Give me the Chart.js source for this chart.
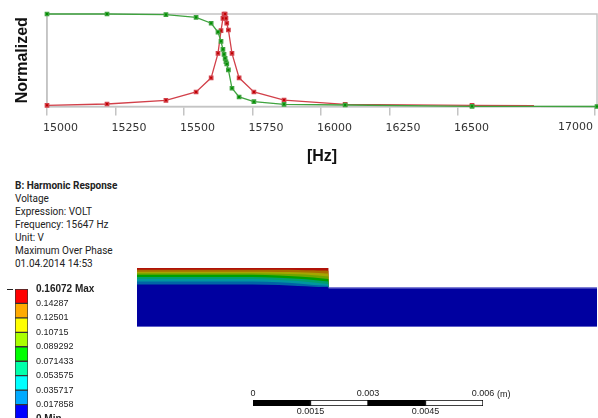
<!DOCTYPE html>
<html>
<head>
<meta charset="utf-8">
<title>Harmonic Response</title>
<script src="https://cdn.jsdelivr.net/npm/chart.js@4"></script>
<style>
    html, body { margin: 0; padding: 0; background: #fff; }
    body { position: relative; width: 598px; height: 418px; overflow: hidden; }
    canvas { position: absolute; }
    #response-chart { left: 0; top: 0; }
    #legend-chart { left: 0; top: 280px; }
    #contour-chart { left: 137px; top: 268px; }
    #scale-chart { left: 233px; top: 386px; }
    #info { position: absolute; left: 15px; top: 179px; font: 10px/13px Roboto, sans-serif; color: #222; white-space: nowrap; }
    #info b { font-weight: 700; }
    #unit { position: absolute; left: 497px; top: 388px; font: 9px/12px "Liberation Sans", sans-serif; color: #222; }
</style>
</head>
<body>
<canvas id="response-chart" width="598" height="172"></canvas>
<div id="info">
    <div><b>B: Harmonic Response</b></div>
    <div>Voltage</div>
    <div>Expression: VOLT</div>
    <div>Frequency: 15647 Hz</div>
    <div>Unit: V</div>
    <div>Maximum Over Phase</div>
    <div>01.04.2014 14:53</div>
</div>
<canvas id="legend-chart" width="130" height="150"></canvas>
<canvas id="contour-chart" width="460" height="59"></canvas>
<canvas id="scale-chart" width="270" height="32"></canvas>
<div id="unit">(m)</div>

<script>
// ===========================================
// DATA
// ===========================================
const frequencies = [15000, 15219, 15434, 15544, 15599, 15624, 15635, 15642, 15646, 15650, 15653, 15656, 15662, 15675, 15701, 15755, 15865, 16088, 16551, 16777, 17007];
const redValues = [0.013, 0.027, 0.067, 0.157, 0.31, 0.575, 0.82, 0.953, 1, 1, 0.953, 0.9, 0.827, 0.575, 0.31, 0.157, 0.07, 0.024, 0.013, 0.009, null];
const greenValues = [1, 1, 0.993, 0.964, 0.9, 0.805, 0.705, 0.618, 0.564, 0.52, 0.484, 0.46, 0.395, 0.197, 0.103, 0.052, 0.024, 0.016, 0.002, 0.001, 0];
const frequencyTicks = [15000, 15250, 15500, 15750, 16000, 16250, 16500, 17000];
const unmarkedFrequency = 16777;

const legendTicks = [0.16072, 0.14287, 0.12501, 0.10715, 0.089292, 0.071433, 0.053575, 0.035717, 0.017858, 0];
const legendColors = ['#ff0000', '#ffaa00', '#ffff00', '#aaff00', '#00ff00', '#00ffaa', '#00ffff', '#00aaff', '#0000ff'];

// contour band tops in mm above the bottom of the model
const bandX = [0, 3, 3.7, 4.2, 4.6, 4.85, 5];
const bandRed = [1.5, 1.5, 1.5, 1.5, 1.5, 1.5, 1.5];
const bandOrange = [1.456, 1.456, 1.456, 1.451, 1.443, 1.435, 1.43];
const bandOlive = [1.404, 1.404, 1.398, 1.391, 1.378, 1.365, 1.357];
const bandLime = [1.365, 1.365, 1.354, 1.339, 1.318, 1.299, 1.286];
const bandGreen = [1.326, 1.326, 1.31, 1.286, 1.26, 1.234, 1.221];
const bandSea = [1.273, 1.273, 1.255, 1.227, 1.195, 1.169, 1.156];
const bandCyan = [1.221, 1.221, 1.198, 1.167, 1.13, 1.104, 1.091];
const bandSky = [1.156, 1.156, 1.135, 1.104, 1.07, 1.052, 1.044];
const bandBlue = [1.078, 1.078, 1.065, 1.044, 1.026, 1.018, 1.013];
const bandColors = ['#b01208', '#a86e00', '#a5a500', '#6ea500', '#00a000', '#00a06e', '#0096a0', '#0064a5', '#0000a0'];
const substrateX = [0, 12];
const substrateTop = [1, 1];
const substrateBottom = [0, 0];
const openEdgeX = [5, 12];

const scaleSegments = [0.0015, 0.0015, 0.0015, 0.0015];
const scaleSegmentColors = ['#000', '#fff', '#000', '#fff'];
const scaleTopTicks = [0, 0.003, 0.006];
const scaleBottomTicks = [0.0015, 0.0045];

// ===========================================
// RESPONSE CURVES
// ===========================================
const frameColor = '#c4c4c4';
const tickFont = { family: '"DejaVu Sans"', size: 11 };

const framePlugin = {
    id: 'frame',
    beforeDatasetsDraw(chart) {
        const { ctx, chartArea } = chart;
        ctx.save();
        ctx.strokeStyle = frameColor;
        ctx.lineWidth = 1.5;
        ctx.strokeRect(chartArea.left, chartArea.top, chartArea.right - chartArea.left, chartArea.bottom - chartArea.top);
        ctx.restore();
    },
    afterDraw(chart) {
        // last label sits left of its tick, the library has one alignment per axis
        const { ctx, scales } = chart;
        const last = frequencyTicks[frequencyTicks.length - 1];
        ctx.save();
        ctx.font = '11px "DejaVu Sans"';
        ctx.fillStyle = '#333';
        ctx.textAlign = 'right';
        ctx.textBaseline = 'middle';
        ctx.fillText(String(last), scales.x.getPixelForValue(last) - 2, 127);
        ctx.restore();
    }
};

function toPoints(values) {
    return frequencies.map((f, i) => ({ x: f, y: values[i] }));
}

function markerRadius(ctx) {
    return frequencies[ctx.dataIndex] === unmarkedFrequency ? 0 : 2.4;
}

new Chart(document.getElementById('response-chart'), {
    type: 'line',
    data: {
        datasets: [
            {
                label: 'Green',
                data: toPoints(greenValues),
                borderColor: '#3fa33f',
                backgroundColor: '#009000',
                borderWidth: 1.3,
                pointStyle: 'rect',
                pointRadius: markerRadius,
                tension: 0,
                clip: false
            },
            {
                label: 'Red',
                data: toPoints(redValues),
                borderColor: '#d2404a',
                backgroundColor: '#c00000',
                borderWidth: 1.3,
                pointStyle: 'rect',
                pointRadius: markerRadius,
                tension: 0,
                clip: false
            }
        ]
    },
    options: {
        responsive: false,
        animation: false,
        devicePixelRatio: 1,
        layout: { autoPadding: false, padding: { top: 14, right: 1 } },
        plugins: { legend: { display: false }, tooltip: { enabled: false } },
        scales: {
            x: {
                type: 'linear',
                min: frequencies[0],
                max: frequencies[frequencies.length - 1],
                afterBuildTicks: axis => { axis.ticks = frequencyTicks.map(v => ({ value: v })); },
                afterFit: axis => {
                    axis.height = 65.5;
                    axis.paddingLeft = 0;
                    axis.paddingRight = 0;
                },
                grid: { drawOnChartArea: false, color: frameColor, tickLength: 9, lineWidth: 1.5 },
                border: { color: frameColor, width: 1.5 },
                ticks: {
                    autoSkip: false,
                    maxRotation: 0,
                    align: 'start',
                    labelOffset: -4,
                    padding: 6,
                    color: '#333',
                    font: tickFont,
                    callback: v => (v === frequencyTicks[frequencyTicks.length - 1] ? '' : String(v))
                },
                title: {
                    display: true,
                    text: '[Hz]',
                    color: '#111',
                    padding: { top: 0, bottom: 6 },
                    font: { family: '"Liberation Sans"', size: 16, weight: 'bold' }
                }
            },
            y: {
                min: 0,
                max: 1,
                afterFit: axis => { axis.width = 47; },
                grid: { display: false },
                border: { color: frameColor, width: 1.5 },
                ticks: { display: false },
                title: {
                    display: true,
                    text: 'Normalized',
                    color: '#111',
                    padding: { top: 13, bottom: 0 },
                    font: { family: '"Liberation Sans"', size: 16, weight: 'bold' }
                }
            }
        }
    },
    plugins: [framePlugin]
});

// ===========================================
// COLOUR LEGEND
// ===========================================
const legendDashPlugin = {
    id: 'legendDash',
    afterDraw(chart) {
        const { ctx, scales } = chart;
        const y = scales.y.getPixelForValue(legendTicks[0]);
        ctx.save();
        ctx.strokeStyle = '#222';
        ctx.beginPath();
        ctx.moveTo(7, y + 0.5);
        ctx.lineTo(13, y + 0.5);
        ctx.stroke();
        ctx.restore();
    }
};

new Chart(document.getElementById('legend-chart'), {
    type: 'bar',
    data: {
        labels: ['V'],
        datasets: legendColors.map((color, i) => ({
            data: [[legendTicks[i + 1], legendTicks[i]]],
            backgroundColor: color,
            borderColor: '#333',
            borderWidth: 1,
            borderSkipped: false,
            grouped: false,
            barPercentage: 1,
            categoryPercentage: 1
        }))
    },
    options: {
        responsive: false,
        animation: false,
        devicePixelRatio: 1,
        layout: { padding: { left: 15, top: 9, bottom: 11 } },
        plugins: { legend: { display: false }, tooltip: { enabled: false } },
        scales: {
            x: { display: false },
            y: {
                position: 'right',
                min: 0,
                max: legendTicks[0],
                afterBuildTicks: axis => { axis.ticks = legendTicks.map(v => ({ value: v })); },
                afterFit: axis => {
                    axis.width = 102;
                    axis.paddingTop = 0;
                    axis.paddingBottom = 0;
                },
                grid: { display: false },
                border: { display: false },
                ticks: {
                    autoSkip: false,
                    padding: 0,
                    color: '#222',
                    font: ctx => {
                        const v = ctx.tick ? ctx.tick.value : null;
                        const isEnd = v === legendTicks[0] || v === 0;
                        return { family: '"Liberation Sans"', size: isEnd ? 10 : 9, weight: isEnd ? 'bold' : 'normal' };
                    },
                    callback: v => (v === legendTicks[0] ? v + ' Max' : v === 0 ? '0 Min' : String(v))
                }
            }
        }
    },
    plugins: [legendDashPlugin]
});

// ===========================================
// CONTOUR VIEW
// ===========================================
function bandDataset(tops, color) {
    return {
        data: bandX.map((x, i) => ({ x: x, y: tops[i] })),
        borderWidth: 0,
        borderColor: color,
        backgroundColor: color,
        fill: 'origin',
        pointRadius: 0,
        cubicInterpolationMode: 'monotone'
    };
}

function edgeDataset(xs, ys) {
    return {
        data: xs.map((x, i) => ({ x: x, y: ys[i] })),
        borderWidth: 1.5,
        borderColor: '#7f7fd4',
        fill: false,
        pointRadius: 0
    };
}

// first dataset is painted last, so the bands go from blue up to red
const contourBands = [bandRed, bandOrange, bandOlive, bandLime, bandGreen, bandSea, bandCyan, bandSky, bandBlue];

new Chart(document.getElementById('contour-chart'), {
    type: 'line',
    data: {
        datasets: [
            edgeDataset(openEdgeX, substrateTop),
            edgeDataset(substrateX, substrateBottom),
            {
                data: substrateX.map((x, i) => ({ x: x, y: substrateTop[i] })),
                borderWidth: 0,
                backgroundColor: bandColors[8],
                fill: 'origin',
                pointRadius: 0
            }
        ].concat(contourBands.map((tops, i) => bandDataset(tops, bandColors[i])).reverse())
    },
    options: {
        responsive: false,
        animation: false,
        devicePixelRatio: 1,
        layout: { autoPadding: false },
        plugins: { legend: { display: false }, tooltip: { enabled: false } },
        scales: {
            x: { type: 'linear', display: false, min: substrateX[0], max: substrateX[1] },
            y: { display: false, min: 0, max: bandRed[0] }
        }
    }
});

// ===========================================
// SCALE BAR
// ===========================================
const scaleFont = { family: '"Liberation Sans"', size: 9 };
const scaleGrid = { display: false, drawTicks: false, tickLength: 0 };

new Chart(document.getElementById('scale-chart'), {
    type: 'bar',
    data: {
        labels: ['m'],
        datasets: scaleSegments.map((segment, i) => ({
            data: [segment],
            backgroundColor: scaleSegmentColors[i],
            borderColor: '#000',
            borderWidth: 1,
            borderSkipped: false,
            barPercentage: 1,
            categoryPercentage: 1
        }))
    },
    options: {
        responsive: false,
        animation: false,
        devicePixelRatio: 1,
        indexAxis: 'y',
        layout: { padding: { left: 20, right: 20 } },
        plugins: { legend: { display: false }, tooltip: { enabled: false } },
        scales: {
            y: { display: false, stacked: true },
            x: {
                type: 'linear',
                stacked: true,
                position: 'bottom',
                min: 0,
                max: 0.006,
                afterBuildTicks: axis => { axis.ticks = scaleBottomTicks.map(v => ({ value: v })); },
                afterFit: axis => { axis.height = 12; },
                grid: scaleGrid,
                border: { display: false },
                ticks: { autoSkip: false, maxRotation: 0, padding: 0, color: '#222', font: scaleFont, callback: v => String(v) }
            },
            xTop: {
                type: 'linear',
                axis: 'x',
                position: 'top',
                min: 0,
                max: 0.006,
                afterBuildTicks: axis => { axis.ticks = scaleTopTicks.map(v => ({ value: v })); },
                afterFit: axis => { axis.height = 14; },
                grid: scaleGrid,
                border: { display: false },
                ticks: { autoSkip: false, maxRotation: 0, padding: 1, color: '#222', font: scaleFont, callback: v => String(v) }
            }
        }
    }
});
</script>
</body>
</html>
